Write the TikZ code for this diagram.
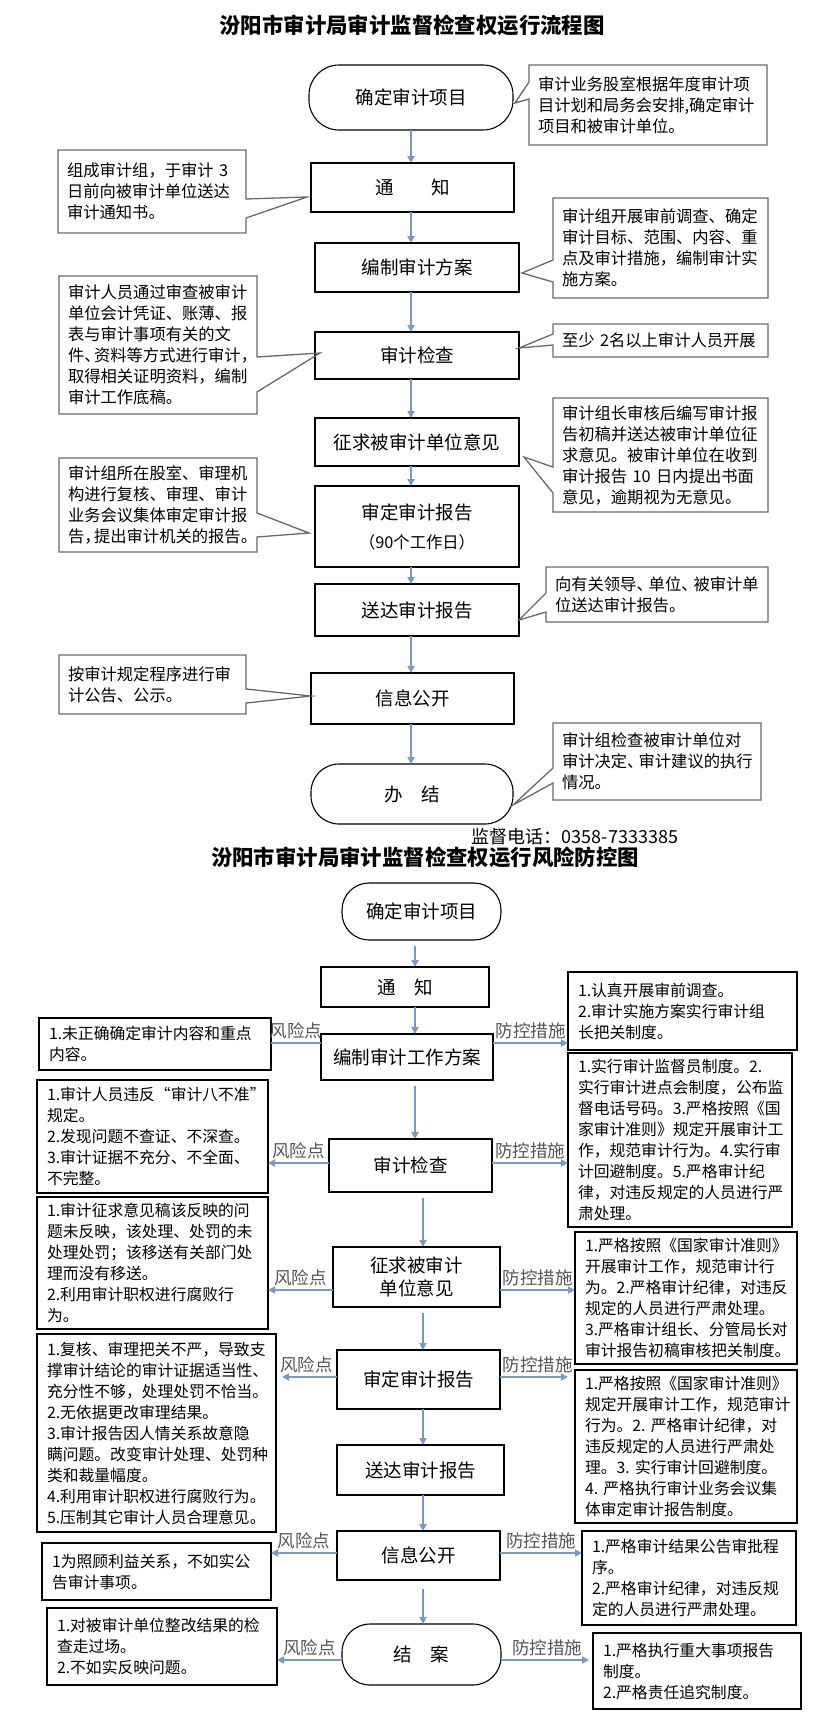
\documentclass[tikz,border=0pt]{standalone}
\usepackage{fontspec}
\setmainfont{Noto Sans CJK SC}
\usetikzlibrary{arrows.meta,positioning}
\definecolor{flowblue}{RGB}{122,152,196}
\definecolor{notegray}{RGB}{105,105,105}
\definecolor{labgray}{RGB}{85,85,85}
\newcommand{\boxfont}{\fontsize{18.5}{23}\selectfont}
\newcommand{\notefont}{\fontsize{16.3}{21}\selectfont}
\newcommand{\riskfont}{\fontsize{15.8}{21}\selectfont}
\newcommand{\titlefont}{\fontsize{21.4}{25}\selectfont\bfseries}

\begin{document}
\begin{tikzpicture}[x=1pt,y=-1pt,
   proc/.style={draw,line width=1.1pt,font=\boxfont,inner sep=2pt,outer sep=0pt},
   term/.style={proc,rounded corners=28pt},
   note/.style={font=\notefont,align=left,inner xsep=9pt,inner ysep=2pt,outer sep=0pt},
   noteline/.style={draw=notegray,line width=1.3pt},
   risk/.style={draw,line width=1.1pt,font=\riskfont,align=left,inner xsep=10pt,inner ysep=2pt,outer sep=0pt},
   flow/.style={color=flowblue,line width=1.8pt,-{Triangle[length=7pt,width=7pt]}},
   gap/.style={shorten <=6pt},
   lab/.style={font=\fontsize{17.5}{20}\selectfont,text=labgray,inner sep=3pt}]
   \useasboundingbox (0,0) rectangle (823,1725);

   \node[font=\titlefont] (title) at (412,25) {汾阳市审计局审计监督检查权运行流程图};
   \node[term,rounded corners=30pt,minimum width=204pt,minimum height=65pt] (start) at (411,97.5) {确定审计项目};
   \node[proc,minimum width=203pt,minimum height=49pt] (notice) at (412.5,187.5) {通\hspace{2em}知};
   \node[proc,minimum width=204pt,minimum height=49pt] (plan) at (417,267.5) {编制审计方案};
   \node[proc,minimum width=204pt,minimum height=47pt] (check) at (417,355.5) {审计检查};
   \node[proc,minimum width=204pt,minimum height=48pt] (opinion) at (417,442) {征求被审计单位意见};
   \node[proc,minimum width=204pt,minimum height=81pt,align=center] (report) at (417,526.5) {审定审计报告\\[6pt]{\notefont（90个工作日）}};
   \node[proc,minimum width=204pt,minimum height=52pt] (send) at (417,610) {送达审计报告};
   \node[proc,minimum width=203pt,minimum height=51pt] (public) at (412.5,698.5) {信息公开};
   \node[term,minimum width=202pt,minimum height=60pt] (finish) at (412,794) {办\quad 结};

   \node[note,minimum width=238pt,minimum height=80pt,text width=220pt] (n1) at (648,105) {审计业务股室根据年度审计项\\目计划和局务会安排,确定审计\\项目和被审计单位。};
   \node[note,minimum width=188pt,minimum height=83pt,text width=170pt] (n2) at (152,191.5) {组成审计组，于审计~3\\日前向被审计单位送达\\审计通知书。};
   \node[note,minimum width=215pt,minimum height=100pt,text width=197pt] (n3) at (660.5,248) {审计组开展审前调查、确定\\审计目标、范围、内容、重\\点及审计措施，编制审计实\\施方案。};
   \node[note,minimum width=198pt,minimum height=138pt,text width=180pt] (n4) at (158,345) {审计人员通过审查被审计\\单位会计凭证、账薄、报\\表与审计事项有关的文\\件、\kern-.4em资料等方式进行审计，\\取得相关证明资料，编制\\审计工作底稿。};
   \node[note,minimum width=215pt,minimum height=33pt,text width=197pt] (n5) at (660.5,340.5) {至少~2名以上审计人员开展};
   \node[note,minimum width=215pt,minimum height=114pt,text width=197pt] (n6) at (660.5,455) {审计组长审核后编写审计报\\告初稿并送达被审计单位征\\求意见。被审计单位在收到\\审计报告~10~日内提出书面\\意见，逾期视为无意见。};
   \node[note,minimum width=198pt,minimum height=94pt,text width=180pt] (n7) at (158,505) {审计组所在股室、审理机\\构进行复核、审理、审计\\业务会议集体审定审计报\\告，\kern-.4em提出审计机关的报告。};
   \node[note,minimum width=222pt,minimum height=55pt,text width=204pt] (n8) at (657,594.5) {向有关领导、\kern-.25em单位、\kern-.25em被审计单\\位送达审计报告。};
   \node[note,minimum width=187pt,minimum height=59pt,text width=169pt] (n9) at (152.5,684.5) {按审计规定程序进行审\\计公告、公示。};
   \node[note,minimum width=208pt,minimum height=77pt,text width=190pt] (n10) at (657,761.5) {审计组检查被审计单位对\\审计决定、\kern-.3em审计建议的执行\\情况。};

   \coordinate (t1) at (515,103);
   \coordinate (t2) at (307,197);
   \coordinate (t3) at (522,273);
   \coordinate (t4) at (320,353);
   \coordinate (t5) at (519,348);
   \coordinate (t6) at (524,457);
   \coordinate (t7) at (309,533);
   \coordinate (t8) at (519,620);
   \coordinate (t9) at (311,696);
   \coordinate (t10) at (513,805);
   \draw[noteline] (n1.north west) -- (n1.north east) -- (n1.south east) -- (n1.south west) -- (n1.west |- 0,99) -- (t1) -- (n1.west |- 0,82) -- cycle;
   \draw[noteline] (n2.north west) -- (n2.north east) -- (n2.east |- 0,199) -- (t2) -- (n2.east |- 0,218) -- (n2.south east) -- (n2.south west) -- cycle;
   \draw[noteline] (n3.north west) -- (n3.north east) -- (n3.south east) -- (n3.south west) -- (n3.west |- 0,282) -- (t3) -- (n3.west |- 0,260) -- cycle;
   \draw[noteline] (n4.north west) -- (n4.north east) -- (n4.east |- 0,357) -- (t4) -- (n4.east |- 0,392) -- (n4.south east) -- (n4.south west) -- cycle;
   \draw[noteline] (n5.north west) -- (n5.north east) -- (n5.south east) -- (n5.south west) -- (n5.west |- 0,345) -- (t5) -- (n5.west |- 0,334) -- cycle;
   \draw[noteline] (n6.north west) -- (n6.north east) -- (n6.south east) -- (n6.south west) -- (n6.west |- 0,493) -- (t6) -- (n6.west |- 0,467) -- cycle;
   \draw[noteline] (n7.north west) -- (n7.north east) -- (n7.east |- 0,513) -- (t7) -- (n7.east |- 0,537) -- (n7.south east) -- (n7.south west) -- cycle;
   \draw[noteline] (n8.north west) -- (n8.north east) -- (n8.south east) -- (n8.south west) -- (n8.west |- 0,612) -- (t8) -- (n8.west |- 0,593) -- cycle;
   \draw[noteline] (n9.north west) -- (n9.north east) -- (n9.east |- 0,689) -- (t9) -- (n9.east |- 0,703) -- (n9.south east) -- (n9.south west) -- cycle;
   \draw[noteline] (n10.north west) -- (n10.north east) -- (n10.south east) -- (n10.south west) -- (n10.west |- 0,783) -- (t10) -- (n10.west |- 0,768) -- cycle;

   \coordinate (axT) at (411,0);
   \path[flow]
     (start.south -| axT)   edge (notice.north -| axT)
     (notice.south -| axT)  edge (plan.north -| axT)
     (plan.south -| axT)    edge (check.north -| axT)
     (check.south -| axT)   edge (opinion.north -| axT)
     (opinion.south -| axT) edge (report.north -| axT)
     (report.south -| axT)  edge (send.north -| axT)
     (send.south -| axT)    edge (public.north -| axT)
     (public.south -| axT)  edge (finish.north -| axT);

   \node[font=\fontsize{18}{20}\selectfont] (tel) at (575,837) {监督电话：0358-7333385};

   \node[font=\titlefont] (title2) at (425,857) {汾阳市审计局审计监督检查权运行风险防控图};
   \node[term,rounded corners=27pt,minimum width=159pt,minimum height=57pt] (start2) at (421.5,911.5) {确定审计项目};
   \node[proc,minimum width=168pt,minimum height=40pt] (notice2) at (405,987) {通\quad 知};
   \node[proc,minimum width=172pt,minimum height=46pt] (plan2) at (407,1057) {编制审计工作方案};
   \node[proc,minimum width=163pt,minimum height=53pt] (check2) at (410.5,1165.5) {审计检查};
   \node[proc,minimum width=167pt,minimum height=60pt,align=center] (opinion2) at (416.5,1277) {征求被审计\\单位意见};
   \node[proc,minimum width=163pt,minimum height=59pt] (report2) at (418.5,1379.5) {审定审计报告};
   \node[proc,minimum width=167pt,minimum height=50pt] (send2) at (420.5,1470) {送达审计报告};
   \node[proc,minimum width=163pt,minimum height=49pt] (public2) at (418.5,1555.5) {信息公开};
   \node[term,minimum width=159pt,minimum height=61pt] (end2) at (421.5,1654.5) {结\quad 案};

   \node[risk,minimum width=232pt,minimum height=52pt,text width=212pt] (L1) at (155,1044) {1.未正确确定审计内容和重点\\内容。};
   \node[risk,minimum width=231pt,minimum height=113pt,text width=211pt] (L2) at (152.5,1136.5) {1.审计人员违反“审计八不准”\\规定。\\2.发现问题不查证、不深查。\\3.审计证据不充分、不全面、\\不完整。};
   \node[risk,minimum width=231pt,minimum height=132pt,text width=211pt] (L3) at (152.5,1263) {1.审计征求意见稿该反映的问\\题未反映，该处理、处罚的未\\处理处罚；该移送有关部门处\\理而没有移送。\\2.利用审计职权进行腐败行\\为。};
   \node[risk,minimum width=239pt,minimum height=198pt,text width=219pt] (L4) at (156.5,1433) {1.复核、审理把关不严，导致支\\撑审计结论的审计证据适当性、\\充分性不够，处理处罚不恰当。\\2.无依据更改审理结果。\\3.审计报告因人情关系故意隐\\瞒问题。改变审计处理、处罚种\\类和裁量幅度。\\4.利用审计职权进行腐败行为。\\5.压制其它审计人员合理意见。};
   \node[risk,minimum width=229pt,minimum height=57pt,text width=209pt] (L5) at (156.5,1571.5) {1为照顾利益关系，不如实公\\告审计事项。};
   \node[risk,minimum width=230pt,minimum height=77pt,text width=210pt] (L6) at (162,1646.5) {1.对被审计单位整改结果的检\\查走过场。\\2.不如实反映问题。};

   \node[risk,minimum width=229pt,minimum height=78pt,text width=209pt] (R1) at (682.5,1011) {1.认真开展审前调查。\\2.审计实施方案实行审计组\\长把关制度。};
   \node[risk,minimum width=224pt,minimum height=174pt,text width=204pt] (R2) at (680,1140) {1.实行审计监督员制度。2.\\实行审计进点会制度，公布监\\督电话号码。3.严格按照《国\\家审计准则》规定开展审计工\\作，规范审计行为。4.实行审\\计回避制度。5.严格审计纪\\律，对违反规定的人员进行严\\肃处理。};
   \node[risk,minimum width=222pt,minimum height=132pt,text width=202pt] (R3) at (686,1298) {1.严格按照《国家审计准则》\\开展审计工作，规范审计行\\为。2.严格审计纪律，对违反\\规定的人员进行严肃处理。\\3.严格审计组长、分管局长对\\审计报告初稿审核把关制度。};
   \node[risk,minimum width=222pt,minimum height=153pt,text width=202pt] (R4) at (686,1446.5) {1.严格按照《国家审计准则》\\规定开展审计工作，规范审计\\行为。2.~严格审计纪律，对\\违反规定的人员进行严肃处\\理。3.~实行审计回避制度。\\4.~严格执行审计业务会议集\\体审定审计报告制度。};
   \node[risk,minimum width=214pt,minimum height=94pt,text width=194pt] (R5) at (689,1578) {1.严格审计结果公告审批程\\序。\\2.严格审计纪律，对违反规\\定的人员进行严肃处理。};
   \node[risk,minimum width=208pt,minimum height=76pt,text width=188pt] (R6) at (697,1671) {1.严格执行重大事项报告\\制度。\\2.严格责任追究制度。};

   \coordinate (axA) at (415,0);
   \coordinate (axB) at (423,0);
   \path[flow]
     (start2.south -| axA)   edge[gap] (notice2.north -| axA)
     (notice2.south -| axA)  edge (plan2.north -| axA)
     (plan2.south -| axA)    edge[gap] (check2.north -| axA)
     (check2.south -| axB)   edge[gap] (opinion2.north -| axB)
     (opinion2.south -| axB) edge[gap] (report2.north -| axB)
     (report2.south -| axB)  edge (send2.north -| axB)
     (send2.south -| axB)    edge (public2.north -| axB)
     (public2.south -| axB)  edge[shorten <=9pt] (end2.north -| axB);

   \coordinate (r1) at (0,1043);
   \coordinate (r2) at (0,1163);
   \coordinate (r3) at (0,1290);
   \coordinate (r4) at (0,1377);
   \coordinate (r5) at (0,1553);
   \coordinate (r6) at (0,1660);
   \path[flow]
     (plan2.west |- r1)    edge[-] node[lab,above] {风险点} (L1.east |- r1)
     (plan2.east |- r1)    edge node[lab,above] {防控措施} (R1.west |- r1)
     (check2.west |- r2)   edge node[lab,above] {风险点} (L2.east |- r2)
     (check2.east |- r2)   edge node[lab,above] {防控措施} (R2.west |- r2)
     (opinion2.west |- r3) edge node[lab,above] {风险点} (L3.east |- r3)
     (opinion2.east |- r3) edge node[lab,above] {防控措施} (R3.west |- r3)
     (report2.west |- r4)  edge[shorten >=6pt] node[lab,above] {风险点} (L4.east |- r4)
     (report2.east |- r4)  edge[shorten >=7pt] node[lab,above] {防控措施} (R4.west |- r4)
     (public2.west |- r5)  edge node[lab,above] {风险点} (L5.east |- r5)
     (public2.east |- r5)  edge node[lab,above] {防控措施} (R5.west |- r5)
     (end2.west |- r6)     edge node[lab,above] {风险点} (L6.east |- r6)
     (end2.east |- r6)     edge[shorten >=4pt] node[lab,above] {防控措施} (R6.west |- r6);
\end{tikzpicture}
\end{document}
